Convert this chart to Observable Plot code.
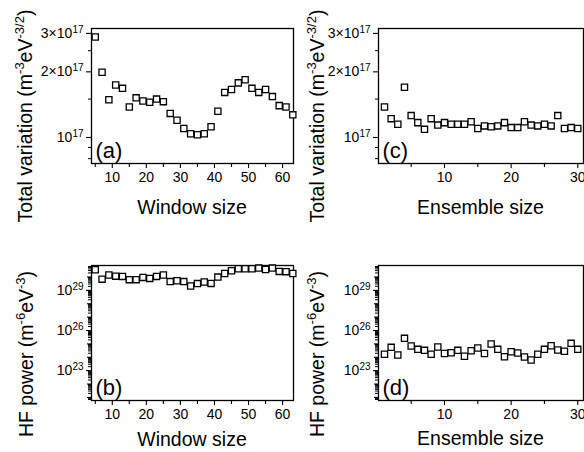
<!DOCTYPE html>
<html><head><meta charset="utf-8">
<script src="https://cdn.jsdelivr.net/npm/d3@7"></script>
<script src="https://cdn.jsdelivr.net/npm/@observablehq/plot@0.6"></script>
<style>
body{margin:0;background:#fff;}
#wrap{position:relative;width:584px;height:452px;overflow:hidden;background:#fff;font-family:"Liberation Sans",Arial,sans-serif;}
#wrap svg{position:absolute;overflow:visible;}
</style></head><body><div id="wrap"></div>
<script>
// ---- data ----
const windowSize = [5,7,9,11,13,15,17,19,21,23,25,27,29,31,33,35,37,39,41,43,45,47,49,51,53,55,57,59,61,63];
const tvWindow = [2.89e17,1.99e17,1.49e17,1.74e17,1.68e17,1.38e17,1.52e17,1.47e17,1.45e17,1.50e17,1.46e17,1.29e17,1.20e17,1.10e17,1.04e17,1.03e17,1.04e17,1.12e17,1.32e17,1.61e17,1.66e17,1.78e17,1.84e17,1.68e17,1.61e17,1.66e17,1.54e17,1.40e17,1.38e17,1.27e17];
const hfWindow = [3.5e30,6.9e29,1.4e30,1.15e30,1.1e30,6.3e29,6.3e29,9.3e29,7.8e29,1.1e30,1.4e30,4.5e29,5.2e29,4.5e29,2.1e29,3.2e29,4.2e29,3.3e29,9.8e29,1.8e30,2.9e30,4.1e30,4.1e30,4.1e30,4.6e30,3.6e30,4.6e30,2.6e30,2.5e30,1.8e30];
const ensembleSize = [1,2,3,4,5,6,7,8,9,10,11,12,13,14,15,16,17,18,19,20,21,22,23,24,25,26,27,28,29,30];
const tvEnsemble = [1.38e17,1.22e17,1.15e17,1.70e17,1.26e17,1.17e17,1.09e17,1.22e17,1.14e17,1.17e17,1.15e17,1.15e17,1.15e17,1.18e17,1.10e17,1.13e17,1.12e17,1.13e17,1.17e17,1.11e17,1.11e17,1.18e17,1.14e17,1.13e17,1.15e17,1.13e17,1.26e17,1.10e17,1.11e17,1.10e17];
const hfEnsemble = [1.7e24,5.5e24,1.5e24,2.6e25,6.9e24,3.9e24,3.3e24,1.7e24,5.8e24,1.9e24,2.2e24,3.3e24,1.2e24,3.1e24,4.9e24,1.9e24,9.8e24,3.9e24,1.1e24,2.6e24,2.1e24,1.05e24,6.3e23,1.7e24,3.9e24,7.2e24,3.5e24,2.8e24,1.1e25,3.9e24];

const windowTicks = [10,20,30,40,50,60];
const windowMinor = [5,15,25,35,45,55];
const ensembleTicks = [10,20,30];
const ensembleMinor = [5,15,25];
const tvTicks = [1e17,2e17,3e17];
const tvTickLabels = ["10^17","2×10^17","3×10^17"];
const tvMinor = [8e16,9e16,1.5e17,2.5e17];
const hfTicks = [1e23,1e26,1e29];
const hfTickLabels = ["10^23","10^26","10^29"];
const hfDecades = [1e21,1e22,1e24,1e25,1e27,1e28,1e30];
const hfMinor = [];
for (let e = 20; e <= 30; e++) for (let k = 2; k <= 9; k++) { const v = +(k + "e" + e); if (v > 6e20 && v < 7e30) hfMinor.push(v); }

const FONT = '"Liberation Sans", Arial, sans-serif';
const wrap = document.getElementById("wrap");

function supText(sel, str, supSize) {
  sel.text(null);
  const parts = str.split(/\^/);
  sel.append("tspan").text(parts[0]);
  if (parts[1]) sel.append("tspan").attr("font-size", supSize).attr("dy", "-0.5em").text(parts[1]);
}

function richTitle(svg, x, y, rotate, parts) {
  const t = d3.select(svg).append("text")
    .attr("transform", `translate(${x},${y})` + (rotate ? " rotate(-90)" : ""))
    .attr("text-anchor", "middle").attr("font-size", 19.5).attr("font-family", FONT).attr("fill", "black");
  let up = false;
  for (const [s, sup] of parts) {
    const ts = t.append("tspan").text(s);
    if (sup && !up) { ts.attr("font-size", 13).attr("dy", -8); up = true; }
    else if (!sup && up) { ts.attr("dy", 8); up = false; }
    else if (sup) ts.attr("font-size", 13);
  }
}

function panel(o) {
  const labelMap = new Map(o.yTicks.map((v, i) => [v, o.yLabels[i]]));
  const svg = Plot.plot({
    width: o.w, height: o.h,
    marginLeft: o.ml, marginRight: o.mr, marginTop: o.mt, marginBottom: o.mb,
    style: {fontFamily: FONT, fontSize: "14px", color: "black", background: "transparent", overflow: "visible"},
    x: {domain: o.xDomain, axis: null},
    y: {type: "log", domain: o.yDomain, axis: null},
    marks: [
      Plot.axisX(o.xMinor, {tickSize: 4, tickFormat: () => "", strokeWidth: 1.1, label: null}),
      Plot.axisX(o.xTicks, {tickSize: 5, tickPadding: 4, strokeWidth: 1.1, fontSize: 14, label: null}),
      Plot.axisY(o.yMinor, {tickSize: 3, tickFormat: () => "", strokeWidth: 1, label: null}),
      ...(o.yDecades ? [Plot.axisY(o.yDecades, {tickSize: 4, tickFormat: () => "", strokeWidth: 1.1, label: null})] : []),
      Plot.axisY(o.yTicks, {tickSize: 5, tickPadding: 3, strokeWidth: 1.1, fontSize: 14, label: null, tickFormat: (d) => labelMap.get(d)}),
      Plot.frame({stroke: "black", strokeWidth: 1.3}),
      Plot.dot(o.x.map((v, i) => ({x: v, y: o.y[i]})), {x: "x", y: "y", symbol: "square", r: 3.5, stroke: "black", fill: "white", strokeWidth: 1.3}),
      Plot.text([o.tag], {frameAnchor: "bottom-left", dx: 4, dy: -6, fontSize: 22, text: (d) => d, textAnchor: "start"})
    ]
  });
  svg.style.left = o.left + "px";
  svg.style.top = o.top + "px";
  d3.select(svg).selectAll('g[aria-label="y-axis tick label"] text').each(function () {
    const s = this.textContent;
    supText(d3.select(this), s, 10);
  });
  wrap.appendChild(svg);
  return svg;
}

const tvDomain = [7.6e16, 3.16e17];
const hfDomain = [5.9e20, 7.2e30];

const A = panel({left: 0, top: 0, w: 300, h: 226, ml: 91, mr: 7, mt: 28, mb: 63,
  x: windowSize, y: tvWindow, xDomain: [3.9, 63.2], yDomain: tvDomain,
  xTicks: windowTicks, xMinor: windowMinor, yTicks: tvTicks, yLabels: tvTickLabels, yMinor: tvMinor, tag: "(a)"});
const C = panel({left: 290, top: 0, w: 294, h: 226, ml: 88, mr: 1, mt: 28, mb: 63,
  x: ensembleSize, y: tvEnsemble, xDomain: [0.1, 30.86], yDomain: tvDomain,
  xTicks: ensembleTicks, xMinor: ensembleMinor, yTicks: tvTicks, yLabels: tvTickLabels, yMinor: tvMinor, tag: "(c)"});
const B = panel({left: 0, top: 226, w: 300, h: 226, ml: 91, mr: 7, mt: 39, mb: 52,
  x: windowSize, y: hfWindow, xDomain: [3.9, 63.2], yDomain: hfDomain,
  xTicks: windowTicks, xMinor: windowMinor, yTicks: hfTicks, yLabels: hfTickLabels, yMinor: hfMinor, yDecades: hfDecades, tag: "(b)"});
const D = panel({left: 290, top: 226, w: 294, h: 226, ml: 88, mr: 1, mt: 39, mb: 52,
  x: ensembleSize, y: hfEnsemble, xDomain: [0.1, 30.86], yDomain: hfDomain,
  xTicks: ensembleTicks, xMinor: ensembleMinor, yTicks: hfTicks, yLabels: hfTickLabels, yMinor: hfMinor, yDecades: hfDecades, tag: "(d)"});

const tvTitle = [["Total variation (m"], ["-3", true], ["eV"], ["-3/2", true], [")"]];
const hfTitle = [["HF power (m"], ["-6", true], ["eV"], ["-3", true], [")"]];
richTitle(A, 192, 214, false, [["Window size"]]);
richTitle(A, 32, 116, true, tvTitle);
richTitle(C, 480.5 - 290, 214, false, [["Ensemble size"]]);
richTitle(C, 324 - 290, 116, true, tvTitle);
richTitle(B, 192, 446 - 226, false, [["Window size"]]);
richTitle(B, 33, 354 - 226, true, hfTitle);
richTitle(D, 480.5 - 290, 445 - 226, false, [["Ensemble size"]]);
richTitle(D, 324 - 290, 354 - 226, true, hfTitle);
</script></body></html>
